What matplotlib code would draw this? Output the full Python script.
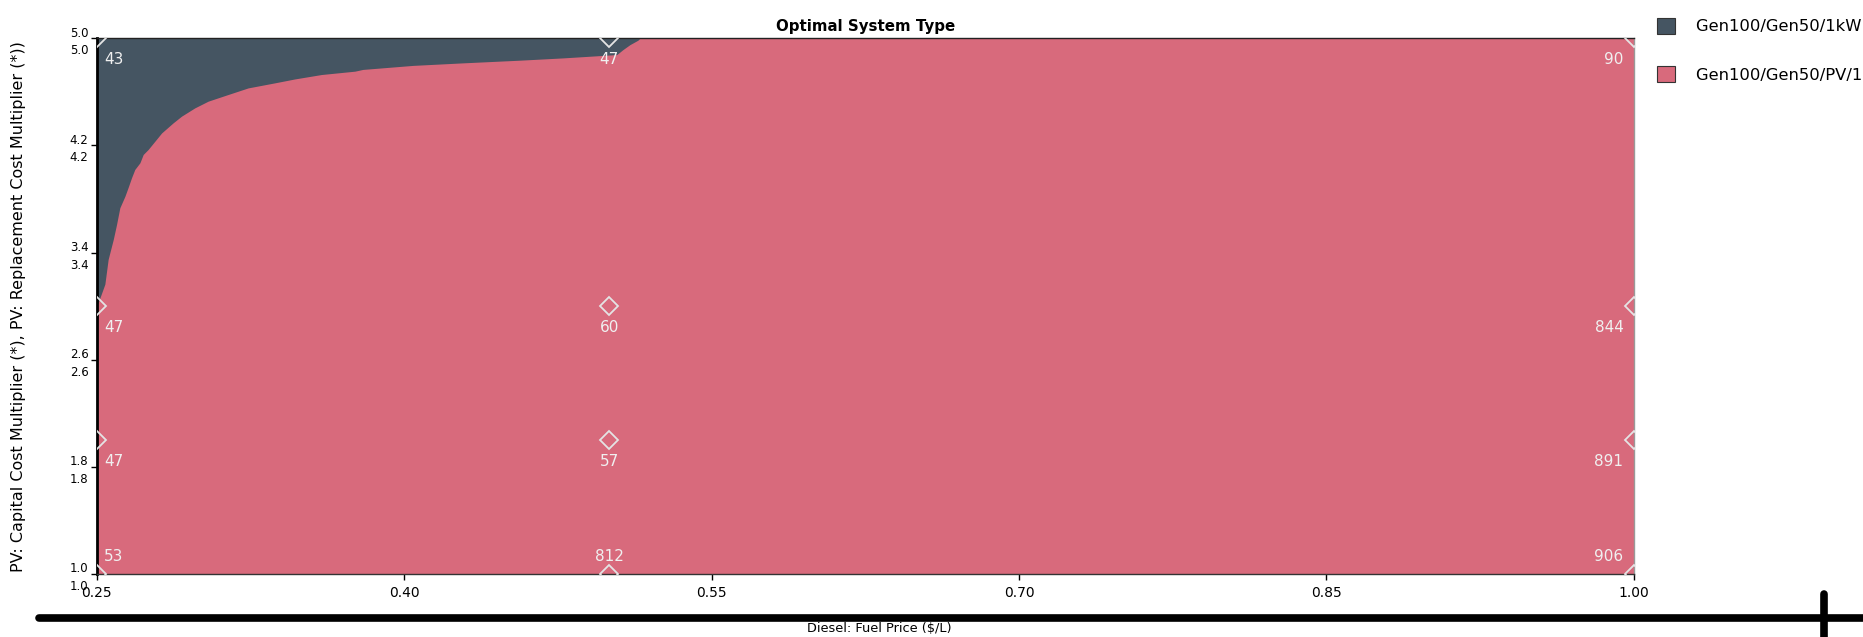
import matplotlib
matplotlib.use('Agg')
import matplotlib.pyplot as plt
from matplotlib.lines import Line2D
from matplotlib.patches import Patch
import numpy as np

font = {'family': 'DejaVu Sans', 'size': 8}
plt.rc('font', **font)

# colours
dark = '#455562'
pink = '#d86a7c'

# axis ranges and ticks
fuel_ticks = [0.25, 0.40, 0.55, 0.70, 0.85, 1.00]
mult_ticks = [1.0, 1.8, 2.6, 3.4, 4.2, 5.0]

# boundary between the two system types
bound_x = [0.25, 0.2505, 0.2539, 0.2555, 0.2580, 0.2596, 0.2612, 0.2637, 0.2653,
           0.2669, 0.2685, 0.2710, 0.2726, 0.2750, 0.2783, 0.2816, 0.2872,
           0.2913, 0.2978, 0.3043, 0.3141, 0.3238, 0.3369, 0.3466, 0.3596,
           0.3759, 0.3798, 0.4042, 0.4286, 0.4564, 0.4774, 0.5037, 0.5067,
           0.5101, 0.5140, 0.515]
bound_y = [3.02, 3.02, 3.164, 3.349, 3.498, 3.610, 3.734, 3.821, 3.888,
           3.958, 4.020, 4.070, 4.132, 4.169, 4.231, 4.293, 4.368,
           4.418, 4.480, 4.530, 4.580, 4.629, 4.667, 4.696, 4.729,
           4.754, 4.767, 4.797, 4.816, 4.836, 4.853, 4.878, 4.915,
           4.952, 4.985, 5.0]

# sensitivity cases and the numbers printed next to them
case_x = [0.25, 0.5, 1.0]
case_y = [5.0, 3.0, 2.0, 1.0]
case_labels = [['43', '47', '90'],
               ['47', '60', '844'],
               ['47', '57', '891'],
               ['53', '812', '906']]

legend_names = ['Gen100/Gen50/1kWh LA', 'Gen100/Gen50/PV/1kWh LA']

fig = plt.figure(figsize=(18.63, 6.37), dpi=100)
ax = fig.add_axes([0.052, 0.099, 0.825, 0.841])

ax.fill_between([fuel_ticks[0], fuel_ticks[-1]], mult_ticks[0], mult_ticks[-1],
                color=pink, linewidth=0)
ax.fill_between(bound_x, bound_y, mult_ticks[-1], color=dark, linewidth=0)

xmin, xmax = fuel_ticks[0], fuel_ticks[-1]
for i in range(len(case_y)):
    for j in range(len(case_x)):
        cx = case_x[j]
        cy = case_y[i]
        ax.plot(cx, cy, marker='D', markersize=9.5, markerfacecolor='none',
                markeredgecolor='#e4e4e4', markeredgewidth=1.3,
                linestyle='None', clip_on=True, zorder=3)
        if j == 0:
            ha = 'left'; dx = 5
        elif j == len(case_x) - 1:
            ha = 'right'; dx = -7.5
        else:
            ha = 'center'; dx = 0
        if i == len(case_y) - 1:
            va = 'bottom'; dy = 7
        else:
            va = 'top'; dy = -10
        ax.annotate(case_labels[i][j], (cx, cy), xytext=(dx, dy),
                    textcoords='offset points', ha=ha, va=va,
                    color='#f0f0f0', fontsize=11, zorder=4)

ax.set_xlim(xmin, xmax)
ax.set_ylim(mult_ticks[0], mult_ticks[-1])
ax.set_xticks(fuel_ticks)
ax.set_xticklabels(['%.2f' % v for v in fuel_ticks])
ax.set_yticks(mult_ticks)
ax.set_yticklabels(['%.1f\n%.1f' % (v, v) for v in mult_ticks],
                   linespacing=1.45)
ax.tick_params(axis='both', direction='out', length=4, width=1, colors='black')
ax.tick_params(axis='x', pad=5, labelsize=10)
ax.tick_params(axis='y', pad=2, labelsize=8.5)

ax.spines['left'].set_linewidth(2.0)
ax.spines['left'].set_color('black')
ax.spines['top'].set_linewidth(1.0)
ax.spines['top'].set_color('#222222')
ax.spines['bottom'].set_linewidth(1.0)
ax.spines['bottom'].set_color('#333333')
ax.spines['right'].set_linewidth(1.0)
ax.spines['right'].set_color('#999999')

ax.set_title('Optimal System Type', fontsize=10.8, weight='bold', pad=5)
ax.set_ylabel('PV: Capital Cost Multiplier (*), PV: Replacement Cost Multiplier (*))',
              fontsize=11.5)
ax.yaxis.set_label_coords(-0.046, 0.5)
fig.text(0.472, 0.013, 'Diesel: Fuel Price ($/L)', ha='center', va='center',
         fontsize=9.3)

handles = [Patch(facecolor=dark, edgecolor='#333333', linewidth=0.8),
           Patch(facecolor=pink, edgecolor='#333333', linewidth=0.8)]
fig.legend(handles, legend_names, loc='upper left', bbox_to_anchor=(0.8895, 0.972),
           frameon=False, fontsize=11.8, handlelength=1.1, handleheight=1.1,
           handletextpad=1.25, labelspacing=1.95, borderaxespad=0.0,
           borderpad=0.0)

# thick black annotation strokes along the bottom
fig.add_artist(Line2D([0.021, 1.0], [0.030, 0.030], color='black', linewidth=5.5,
                      solid_capstyle='round', transform=fig.transFigure))
fig.add_artist(Line2D([0.979, 0.979], [0.0, 0.068], color='black', linewidth=5.5,
                      solid_capstyle='round', transform=fig.transFigure))

plt.savefig('out.png', dpi=100)
